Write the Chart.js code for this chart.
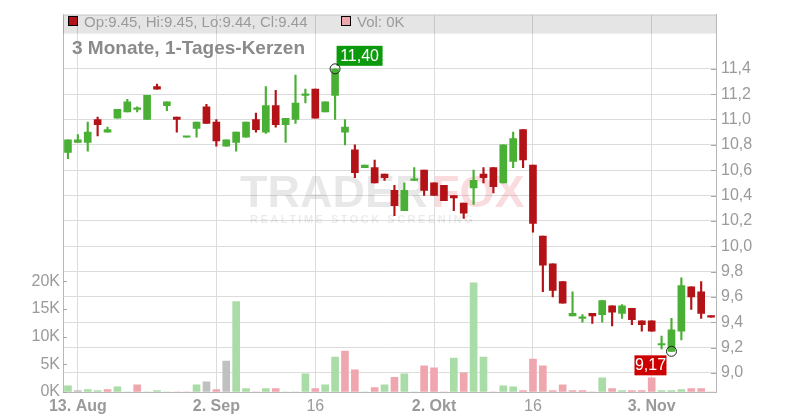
<!DOCTYPE html>
<html>
<head>
<meta charset="utf-8">
<script src="https://cdn.jsdelivr.net/npm/chart.js@4"></script>
<style>
    body { margin: 0; background: #fff; }
    #box { width: 800px; height: 420px; }
</style>
</head>
<body>
<div id="box"><canvas id="myChart"></canvas></div>
<script>
// ngày giao dịch 12.08 - 11.11
const days = [
    '12.08', '13.08', '14.08', '15.08', '18.08', '19.08', '20.08', '21.08', '22.08', '25.08',
    '26.08', '27.08', '28.08', '29.08', '01.09', '02.09', '03.09', '04.09', '05.09', '08.09',
    '09.09', '10.09', '11.09', '12.09', '15.09', '16.09', '17.09', '18.09', '19.09', '22.09',
    '23.09', '24.09', '25.09', '26.09', '29.09', '30.09', '01.10', '02.10', '03.10', '06.10',
    '07.10', '08.10', '09.10', '10.10', '13.10', '14.10', '15.10', '16.10', '17.10', '20.10',
    '21.10', '22.10', '23.10', '24.10', '27.10', '28.10', '29.10', '30.10', '31.10', '03.11',
    '04.11', '05.11', '06.11', '07.11', '10.11', '11.11'
];

const open = [
    10.74, 10.82, 10.82, 11.00, 10.90, 11.01, 11.06, 11.08, 11.00, 11.26,
    11.11, 11.02, 10.86, 10.93, 11.10, 10.98, 10.79, 10.82, 10.86, 11.00,
    10.90, 11.11, 10.96, 11.00, 11.19, 11.24, 11.06, 11.19, 10.90, 10.76,
    10.62, 10.62, 10.57, 10.44, 10.28, 10.52, 10.60, 10.50, 10.48, 10.40,
    10.34, 10.46, 10.57, 10.62, 10.50, 10.67, 10.92, 10.64, 10.08, 9.86,
    9.72, 9.45, 9.43, 9.47, 9.46, 9.53, 9.47, 9.51, 9.41, 9.41,
    9.22, 9.17, 9.33, 9.68, 9.64, 9.45
];
const high = [
    10.84, 10.88, 10.98, 11.02, 10.94, 11.08, 11.16, 11.10, 11.19, 11.28,
    11.14, 11.02, 10.86, 10.98, 11.12, 11.00, 10.84, 10.90, 10.98, 11.05,
    11.26, 11.23, 11.01, 11.35, 11.24, 11.24, 11.14, 11.40, 11.00, 10.80,
    10.64, 10.68, 10.57, 10.48, 10.50, 10.62, 10.60, 10.50, 10.48, 10.40,
    10.34, 10.60, 10.62, 10.62, 10.80, 10.90, 10.92, 10.64, 10.08, 9.86,
    9.72, 9.64, 9.46, 9.47, 9.57, 9.53, 9.54, 9.51, 9.41, 9.41,
    9.29, 9.43, 9.75, 9.68, 9.72, 9.45
];
const low = [
    10.69, 10.82, 10.75, 10.87, 10.90, 11.01, 11.06, 11.06, 11.00, 11.24,
    11.07, 10.90, 10.86, 10.86, 10.97, 10.79, 10.79, 10.75, 10.86, 10.90,
    10.89, 10.94, 10.82, 10.97, 11.13, 11.01, 11.06, 11.00, 10.80, 10.54,
    10.62, 10.50, 10.52, 10.24, 10.28, 10.52, 10.40, 10.40, 10.36, 10.28,
    10.22, 10.33, 10.50, 10.42, 10.50, 10.62, 10.62, 10.11, 9.64, 9.60,
    9.55, 9.45, 9.40, 9.39, 9.40, 9.37, 9.43, 9.38, 9.33, 9.33,
    9.19, 9.17, 9.26, 9.50, 9.43, 9.44
];
const close = [
    10.84, 10.84, 10.90, 10.96, 10.92, 11.08, 11.14, 11.08, 11.19, 11.24,
    11.14, 11.00, 10.86, 10.98, 10.97, 10.83, 10.84, 10.90, 10.98, 10.92,
    11.11, 10.96, 11.01, 11.13, 11.19, 11.01, 11.14, 11.40, 10.94, 10.58,
    10.64, 10.50, 10.54, 10.32, 10.44, 10.52, 10.44, 10.40, 10.36, 10.38,
    10.26, 10.52, 10.54, 10.47, 10.80, 10.85, 10.68, 10.18, 9.85, 9.65,
    9.55, 9.47, 9.44, 9.45, 9.57, 9.48, 9.53, 9.42, 9.38, 9.33,
    9.22, 9.34, 9.69, 9.60, 9.47, 9.44
];

// khối lượng (nghìn) và màu: g = tăng, r = giảm, n = không đổi
const volume = [
    1.13, 0.24, 0.42, 0.24, 0.42, 0.95, 0, 1.31, 0, 0.24,
    0, 0, 0, 1.31, 1.85, 0.42, 5.6, 16.35, 0.6, 0,
    0.6, 0.6, 0, 0, 3.28, 0.6, 1.31, 6.32, 7.4, 4.0,
    0, 0.78, 1.31, 2.63, 3.28, 0, 4.71, 4.36, 0, 6.15,
    3.46, 19.75, 6.32, 0, 1.13, 0.95, 0.24, 5.97, 4.71, 0.24,
    1.31, 0.24, 0.24, 0, 2.57, 0.6, 0.24, 0.24, 0.24, 2.57,
    0.24, 0.24, 0.42, 0.6, 0.6, 0
];
const volDir = [
    'g', 'n', 'g', 'g', 'r', 'g', 'g', 'r', 'g', 'g',
    'g', 'r', 'r', 'g', 'n', 'r', 'n', 'g', 'g', 'r',
    'g', 'r', 'g', 'g', 'g', 'r', 'g', 'g', 'r', 'r',
    'g', 'r', 'g', 'r', 'g', 'g', 'r', 'r', 'r', 'g',
    'r', 'g', 'g', 'r', 'g', 'g', 'r', 'r', 'r', 'r',
    'r', 'r', 'r', 'r', 'g', 'r', 'g', 'r', 'r', 'r',
    'g', 'g', 'g', 'r', 'r', 'r'
];

// trục
const xTickIdx = [1, 15, 25, 37, 47, 59];
const xTickText = ['13. Aug', '2. Sep', '16', '2. Okt', '16', '3. Nov'];
const xTickBold = [true, true, false, true, false, true];
const priceTicks = [9.0, 9.2, 9.4, 9.6, 9.8, 10.0, 10.2, 10.4, 10.6, 10.8, 11.0, 11.2, 11.4];
const volTicks = [0, 5, 10, 15, 20];

// nhãn cao / thấp nhất
const highIdx = 27, highVal = 11.40, highText = '11,40';
const lowIdx = 61, lowVal = 9.17, lowText = '9,17';

const lastBar = { op: '9.45', hi: '9.45', lo: '9.44', cl: '9.44', vol: '0K' };

const GREEN = '#4aaf35';
const RED = '#b31217';
const VOLCOL = { g: '#a9dca6', r: '#f0a6ae', n: '#c0c0c0' };
const FONT = '"Liberation Sans", Arial, sans-serif';

Chart.defaults.font.family = FONT;

const candleCol = open.map((o, i) => close[i] >= o ? GREEN : RED);

// watermark + header
const decor = {
    id: 'decor',
    beforeDatasetsDraw(chart) {
        const c = chart.ctx;
        c.save();
        c.font = 'bold 45px ' + FONT;
        c.fillStyle = 'rgba(0,0,0,0.09)';
        c.fillText('TRADER', 240, 207);
        c.fillStyle = 'rgba(230,60,80,0.18)';
        c.fillText('FOX', 432, 207);
        c.font = 'bold 11px ' + FONT;
        c.letterSpacing = '2.5px';
        c.fillStyle = 'rgba(0,0,0,0.08)';
        c.fillText('REALTIME STOCK SCREENING', 250, 223);
        c.restore();
    },
    afterDatasetsDraw(chart) {
        const c = chart.ctx, a = chart.chartArea;
        const x = chart.scales.x, y = chart.scales.y;
        c.save();

        // header bar
        c.fillStyle = 'rgba(0,0,0,0.1)';
        c.fillRect(a.left, a.top, a.right - a.left, 19);
        c.strokeStyle = '#c8c8c8';
        c.lineWidth = 1;
        c.beginPath();
        c.moveTo(a.left, a.top + 0.5);
        c.lineTo(a.right, a.top + 0.5);
        c.stroke();

        c.fillStyle = RED;
        c.fillRect(68.5, 16.5, 9, 9);
        c.strokeStyle = '#000';
        c.strokeRect(68.5, 16.5, 9, 9);
        c.fillStyle = VOLCOL.r;
        c.fillRect(341.5, 16.5, 9, 9);
        c.strokeRect(341.5, 16.5, 9, 9);

        c.font = '15px ' + FONT;
        c.fillStyle = '#9a9a9a';
        c.textBaseline = 'alphabetic';
        c.fillText('Op:' + lastBar.op + ', Hi:' + lastBar.hi + ', Lo:' + lastBar.lo + ', Cl:' + lastBar.cl, 84, 26.5);
        c.fillText('Vol: ' + lastBar.vol, 357, 26.5);

        c.font = 'bold 19px ' + FONT;
        c.fillStyle = '#8a8a8a';
        c.fillText('3 Monate, 1-Tages-Kerzen', 72, 54);

        // high label
        let px = x.getPixelForValue(highIdx), py = y.getPixelForValue(highVal);
        c.fillStyle = '#0c9a0c';
        c.fillRect(px + 1.5, py - 23, 46, 20);
        c.fillStyle = '#fff';
        c.font = '16px ' + FONT;
        c.textAlign = 'center';
        c.textBaseline = 'middle';
        c.fillText(highText, px + 24.5, py - 12.5);
        c.strokeStyle = '#222';
        c.beginPath();
        c.arc(px, py, 5, 0, Math.PI * 2);
        c.stroke();

        // low label
        px = x.getPixelForValue(lowIdx); py = y.getPixelForValue(lowVal);
        c.fillStyle = '#cc0000';
        c.fillRect(px - 37, py + 4, 32, 20);
        c.fillStyle = '#fff';
        c.fillText(lowText, px - 21, py + 14.5);
        c.strokeStyle = '#222';
        c.beginPath();
        c.arc(px, py, 5, 0, Math.PI * 2);
        c.stroke();

        // tick marks inside
        c.strokeStyle = '#a8a8a8';
        c.beginPath();
        chart.scales.yVol.ticks.forEach(t => {
            const ty = Math.round(chart.scales.yVol.getPixelForValue(t.value)) + 0.5;
            c.moveTo(a.left, ty); c.lineTo(a.left + 4, ty);
        });
        y.ticks.forEach(t => {
            const ty = Math.round(y.getPixelForValue(t.value)) + 0.5;
            c.moveTo(a.right - 5, ty); c.lineTo(a.right, ty);
        });
        c.stroke();
        c.restore();
    }
};

new Chart('myChart', {
    type: 'bar',
    data: {
        labels: days,
        datasets: [{
            label: 'Kerzen',
            data: open.map((o, i) => [o, close[i]]),
            backgroundColor: candleCol,
            barThickness: 7,
            minBarLength: 1.5,
            grouped: false,
            yAxisID: 'y',
            order: 1
        }, {
            label: 'Docht',
            data: low.map((l, i) => [l, high[i]]),
            backgroundColor: candleCol,
            barThickness: 1.5,
            grouped: false,
            yAxisID: 'y',
            order: 2
        }, {
            label: 'Vol',
            data: volume.map(v => v * 1000),
            backgroundColor: volDir.map(d => VOLCOL[d]),
            barThickness: 7,
            grouped: false,
            yAxisID: 'yVol',
            order: 3
        }]
    },
    options: {
        responsive: true,
        maintainAspectRatio: false,
        animation: false,
        layout: { padding: { top: 11, left: 0, right: 0, bottom: 0 } },
        plugins: { legend: { display: false }, tooltip: { enabled: false } },
        scales: {
            x: {
                offset: true,
                grid: { color: '#dcdcdc', offset: false, drawTicks: false },
                border: { color: '#b8b8b8' },
                afterBuildTicks: s => { s.ticks = xTickIdx.map(i => ({ value: i })); },
                afterFit: s => { s.height = 28; },
                ticks: {
                    autoSkip: false,
                    maxRotation: 0,
                    padding: 5,
                    color: '#9a9a9a',
                    font: ctx => ({ size: 16, weight: xTickBold[ctx.index] ? 'bold' : 'normal' }),
                    callback: (v, i) => xTickText[i]
                }
            },
            y: {
                position: 'right',
                min: 8.849,
                max: 11.828,
                grid: { color: '#dcdcdc', drawTicks: false },
                border: { color: '#b8b8b8' },
                afterBuildTicks: s => { s.ticks = priceTicks.map(v => ({ value: v })); },
                afterFit: s => { s.width = 84; },
                ticks: {
                    padding: 5,
                    color: '#9a9a9a',
                    font: { size: 16 },
                    callback: v => v.toFixed(1).replace('.', ',')
                }
            },
            yVol: {
                position: 'left',
                min: 0,
                max: 68200,
                grid: { drawOnChartArea: false, drawTicks: false },
                border: { color: '#b8b8b8' },
                afterBuildTicks: s => { s.ticks = volTicks.map(v => ({ value: v * 1000 })); },
                afterFit: s => { s.width = 63; },
                ticks: {
                    padding: 3,
                    color: '#9a9a9a',
                    font: { size: 16 },
                    callback: v => (v / 1000) + 'K'
                }
            }
        }
    },
    plugins: [decor]
});
</script>
</body>
</html>
